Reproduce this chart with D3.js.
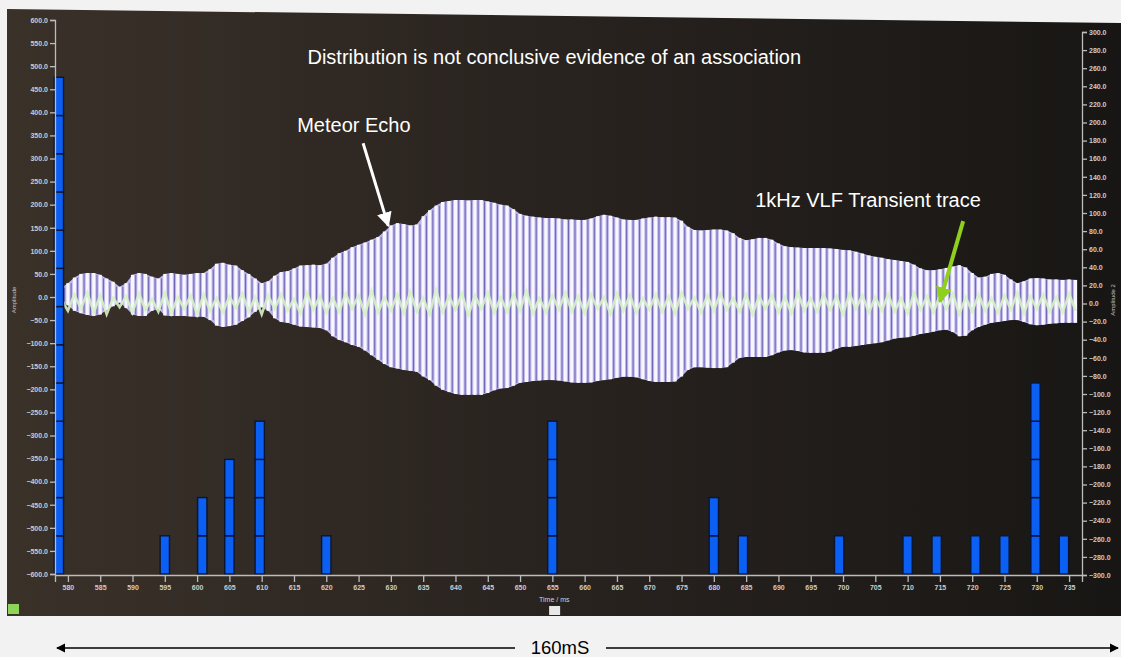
<!DOCTYPE html>
<html>
<head>
<meta charset="utf-8">
<script src="https://cdn.jsdelivr.net/npm/d3@7"></script>
<style>
body{margin:0;background:#f2f2f2;}
svg{display:block;font-family:"Liberation Sans",Arial,sans-serif;}
</style>
</head>
<body>
<div id="chart"></div>
<script>

// histogram of events (time in ms, count)
var barTimes = [578.6, 595, 600.8, 605, 609.7, 620, 655, 680, 684.5, 699.4, 710, 714.5, 720.5, 725, 729.8, 734.2];
var barCounts = [13, 1, 2, 3, 4, 1, 4, 2, 1, 1, 1, 1, 1, 1, 5, 1];

// meteor echo envelope, one value per ms starting at echoStart
var echoStart = 579;
var echoUpper = [20,30,42,50,52,52,48,40,33,22,
  30,48,52,50,44,40,50,52,50,48,
  50,52,52,60,72,74,70,68,58,50,
  40,30,34,46,54,56,62,68,69,70,
  69,72,85,95,100,108,113,118,124,130,
  142,155,160,158,155,157,175,188,198,206,
  208,210,210,209,210,210,207,204,200,198,
  190,180,176,174,172,171,171,170,168,168,
  167,167,170,175,178,176,172,168,167,167,
  170,172,174,173,173,172,165,152,145,144,
  145,146,146,144,138,128,123,125,128,128,
  124,116,110,108,107,106,106,106,106,105,
  104,102,101,98,94,90,87,85,82,80,
  78,76,70,62,58,58,60,63,66,69,
  64,52,42,44,50,52,48,38,30,34,
  40,41,40,38,38,37,38,37];
var echoLower = [-10,-18,-30,-35,-39,-41,-38,-28,-20,-12,
  -24,-38,-41,-41,-30,-26,-40,-41,-41,-41,
  -42,-43,-43,-50,-62,-65,-63,-60,-52,-44,
  -32,-22,-30,-46,-54,-56,-60,-64,-65,-66,
  -67,-72,-85,-93,-98,-104,-108,-116,-126,-136,
  -145,-152,-155,-158,-160,-162,-172,-180,-192,-201,
  -206,-210,-212,-212,-212,-212,-208,-202,-198,-197,
  -192,-186,-184,-182,-181,-180,-180,-181,-183,-185,
  -186,-186,-185,-182,-180,-178,-175,-173,-173,-174,
  -178,-182,-184,-184,-184,-183,-172,-158,-152,-152,
  -153,-154,-154,-152,-142,-132,-130,-130,-130,-130,
  -126,-120,-116,-115,-117,-120,-121,-121,-121,-118,
  -112,-108,-108,-106,-104,-102,-100,-98,-94,-90,
  -88,-87,-84,-80,-78,-75,-72,-71,-76,-85,
  -84,-72,-65,-60,-56,-54,-52,-50,-50,-54,
  -59,-61,-60,-58,-57,-56,-56,-56];

// 1kHz VLF trace (Amplitude 2)
var vlfTrace = [4,-8,10,-6,12,-10,9,-12,6,-4,
  8,-10,11,-7,5,-9,12,-11,7,-6,
  9,-12,10,-8,6,-10,8,-5,11,-9,
  7,-12,9,-6,10,-8,5,-11,12,-7,
  8,-10,6,-9,11,-6,9,-12,14,-10,
  7,-8,10,-11,13,-9,6,-12,15,-10,
  8,-7,11,-13,9,-6,12,-10,7,-9,
  10,-8,14,-11,6,-10,9,-7,12,-9,
  8,-11,10,-6,7,-12,11,-8,9,-10,
  6,-7,10,-9,8,-11,12,-6,7,-10,
  9,-8,11,-7,6,-9,10,-12,8,-6,
  9,-10,7,-11,12,-8,6,-9,10,-7,
  8,-12,11,-6,9,-10,7,-8,10,-9,
  6,-11,12,-7,8,-10,9,-6,11,-12,
  7,-9,10,-8,6,-10,9,-7,12,-11,
  8,-6,10,-9,7,-10,11,-8];

var xTicks = [580,585,590,595,600,605,610,615,620,625,630,635,640,645,650,655,660,665,670,675,680,685,690,695,700,705,710,715,720,725,730,735];
var leftTicks = [-600,-550,-500,-450,-400,-350,-300,-250,-200,-150,-100,-50,0,50,100,150,200,250,300,350,400,450,500,550,600];
var rightTicks = [-300,-280,-260,-240,-220,-200,-180,-160,-140,-120,-100,-80,-60,-40,-20,0,20,40,60,80,100,120,140,160,180,200,220,240,260,280,300];

var W = 1121, H = 657;

var x = d3.scaleLinear().domain([578, 737]).range([55, 1082]);
var yL = d3.scaleLinear().domain([-600, 600]).range([574, 20]);
var yR = d3.scaleLinear().domain([-300, 300]).range([575, 32]);
var yCount = d3.scaleLinear().domain([0, 14.5]).range([574, 20]);

var svg = d3.select("#chart")
            .append("svg")
            .attr("width", W)
            .attr("height", H);

var defs = svg.append("defs");
var grad = defs.append("linearGradient").attr("id", "screen")
               .attr("x1", "0").attr("x2", "1").attr("y1", "0").attr("y2", "0");
grad.append("stop").attr("offset", "0%").attr("stop-color", "#3a3129");
grad.append("stop").attr("offset", "45%").attr("stop-color", "#2a2420");
grad.append("stop").attr("offset", "100%").attr("stop-color", "#181614");

function marker(id, color, size) {
  defs.append("marker").attr("id", id)
      .attr("viewBox", "0 0 10 10").attr("refX", 9).attr("refY", 5)
      .attr("markerWidth", size).attr("markerHeight", size)
      .attr("orient", "auto-start-reverse")
      .append("path").attr("d", "M0,0L10,5L0,10z").attr("fill", color);
}
marker("arrW", "#ffffff", 5);
marker("arrG", "#8fcf1e", 4);
marker("arrK", "#000000", 7);

// screen background (photo is a bit tilted)
svg.append("polygon")
   .attr("points", "7,9 1121,23 1121,616 7,616")
   .attr("fill", "url(#screen)");

// envelope of the echo
var idx = d3.range(echoUpper.length);
var area = d3.area()
             .x(function(i) { return x(echoStart + i); })
             .y0(function(i) { return yL(echoLower[i]); })
             .y1(function(i) { return yL(echoUpper[i]); });
svg.append("path")
   .attr("d", area(idx))
   .attr("fill", "#bdb6ea");

// dark strokes between cycles
svg.append("g").selectAll("line")
   .data(idx.slice(0, idx.length - 1))
   .enter().append("line")
   .attr("x1", function(i) { return x(echoStart + i + 0.5); })
   .attr("x2", function(i) { return x(echoStart + i + 0.5); })
   .attr("y1", function(i) { return yL(Math.min(echoUpper[i], echoUpper[i + 1])); })
   .attr("y2", function(i) { return yL(Math.max(echoLower[i], echoLower[i + 1])); })
   .attr("stroke", "#6e64b4")
   .style("stroke-width", "1px");

// bright strokes of each cycle
svg.append("g").selectAll("line")
   .data(idx)
   .enter().append("line")
   .attr("x1", function(i) { return x(echoStart + i); })
   .attr("x2", function(i) { return x(echoStart + i); })
   .attr("y1", function(i) { return yL(echoUpper[i]); })
   .attr("y2", function(i) { return yL(echoLower[i]); })
   .attr("stroke", "#f8f6ff")
   .style("stroke-width", "3.2px");

// VLF trace
var vlfLine = d3.line()
                .x(function(d, i) { return x(echoStart + i); })
                .y(function(d) { return yR(d); });
svg.append("path")
   .attr("d", vlfLine(vlfTrace))
   .attr("fill", "none")
   .attr("stroke", "#d6f2c6")
   .attr("stroke-opacity", 0.9)
   .style("stroke-width", "2.6px");

// event bars, stacked one box per count
var boxes = [];
for (var b = 0; b < barTimes.length; b++) {
  for (var k = 0; k < barCounts[b]; k++) {
    boxes.push({t: barTimes[b], k: k});
  }
}
svg.append("g").selectAll("rect")
   .data(boxes)
   .enter().append("rect")
   .attr("x", function(d) { return x(d.t - 0.72); })
   .attr("width", function(d) { return x(d.t + 0.72) - x(d.t - 0.72); })
   .attr("y", function(d) { return yCount(d.k + 1); })
   .attr("height", function(d) { return yCount(d.k) - yCount(d.k + 1); })
   .attr("fill", "#0b5ff2")
   .attr("stroke", "#0a1630")
   .style("stroke-width", "1.4px");

// axes
function styleAxis(g) {
  g.selectAll(".domain").attr("stroke", "#bcbcbc").style("stroke-width", "1.3px");
  g.selectAll(".tick line").attr("stroke", "#bcbcbc").style("stroke-width", "1.3px");
  g.selectAll(".tick text").attr("fill", "#cccccc")
   .style("font-size", "7px").style("font-weight", "bold");
}
var gL = svg.append("g").attr("transform", "translate(" + x(578) + ",0)")
            .call(d3.axisLeft(yL).tickValues(leftTicks).tickFormat(d3.format(".1f")).tickSize(5).tickPadding(2));
styleAxis(gL);
var gR = svg.append("g").attr("transform", "translate(" + x(737) + ",0)")
            .call(d3.axisRight(yR).tickValues(rightTicks).tickFormat(d3.format(".1f")).tickSize(5).tickPadding(2));
styleAxis(gR);
var gB = svg.append("g").attr("transform", "translate(0," + (yL(-600) + 1) + ")")
            .call(d3.axisBottom(x).tickValues(xTicks).tickFormat(d3.format("d")).tickSize(7).tickPadding(3));
styleAxis(gB);

svg.append("text").attr("x", x(655.3)).attr("y", 602)
   .attr("text-anchor", "middle").attr("fill", "#d2d2d2")
   .style("font-size", "7px").text("Time / ms");
svg.append("rect").attr("x", x(654.5)).attr("y", 606).attr("width", 11).attr("height", 9)
   .attr("fill", "#e8e8e8");
svg.append("rect").attr("x", 8).attr("y", 604).attr("width", 11).attr("height", 10)
   .attr("fill", "#8fd45a");
svg.append("text").attr("transform", "translate(16,300) rotate(-90)")
   .attr("text-anchor", "middle").attr("fill", "#c8c8c8")
   .style("font-size", "6px").text("Amplitude");
svg.append("text").attr("transform", "translate(1115,300) rotate(-90)")
   .attr("text-anchor", "middle").attr("fill", "#c8c8c8")
   .style("font-size", "6px").text("Amplitude 2");

// annotations
svg.append("text").attr("x", x(655.3)).attr("y", yL(505))
   .attr("text-anchor", "middle").attr("fill", "#ffffff")
   .style("font-size", "20px").text("Distribution is not conclusive evidence of an association");
svg.append("text").attr("x", x(615.5)).attr("y", yL(358))
   .attr("fill", "#ffffff")
   .style("font-size", "20px").text("Meteor Echo");
svg.append("line")
   .attr("x1", x(625.7)).attr("y1", yL(333))
   .attr("x2", x(629.6)).attr("y2", yL(154))
   .attr("stroke", "#ffffff").style("stroke-width", "3px")
   .attr("marker-end", "url(#arrW)");
svg.append("text").attr("x", x(686.4)).attr("y", yR(107))
   .attr("fill", "#ffffff")
   .style("font-size", "20px").text("1kHz VLF Transient trace");
svg.append("line")
   .attr("x1", x(718.6)).attr("y1", yR(91))
   .attr("x2", x(715.0)).attr("y2", yR(2))
   .attr("stroke", "#8fcf1e").style("stroke-width", "4px")
   .attr("marker-end", "url(#arrG)");

// span arrow under the screen
svg.append("line").attr("x1", 57).attr("y1", 648).attr("x2", 515).attr("y2", 648)
   .attr("stroke", "#000").style("stroke-width", "1.3px")
   .attr("marker-start", "url(#arrK)");
svg.append("line").attr("x1", 606).attr("y1", 648).attr("x2", 1118).attr("y2", 648)
   .attr("stroke", "#000").style("stroke-width", "1.3px")
   .attr("marker-end", "url(#arrK)");
svg.append("text").attr("x", 560).attr("y", 654)
   .attr("text-anchor", "middle").attr("fill", "#000")
   .style("font-size", "18.5px").text("160mS");

</script>
</body>
</html>
